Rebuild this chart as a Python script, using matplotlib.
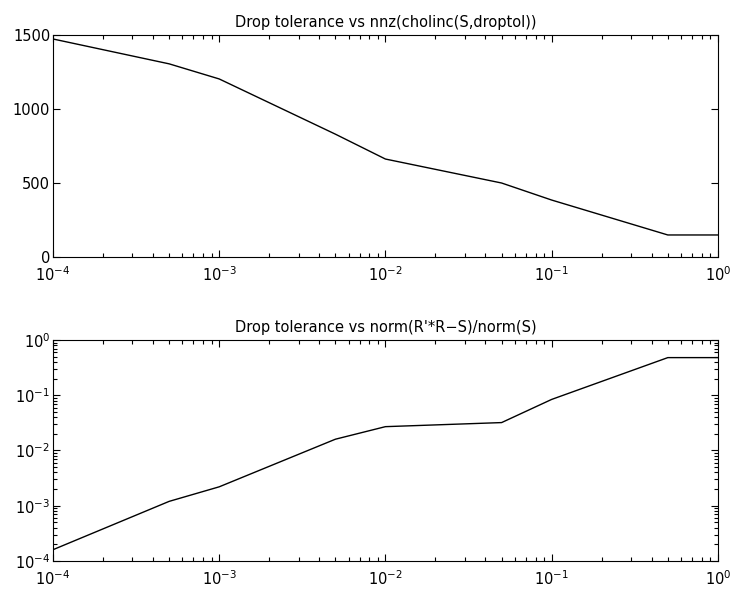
import numpy as np
import matplotlib
matplotlib.use('Agg')
import matplotlib.pyplot as plt
from matplotlib.ticker import LogLocator, FixedLocator

# drop tolerances used on both plots
droptol = [1e-4, 5e-4, 1e-3, 5e-3, 1e-2, 5e-2, 1e-1, 5e-1, 1]
# nnz(cholinc(S,droptol))
nnz_vals = [1473, 1305, 1203, 830, 662, 500, 385, 149, 149]
# norm(R'*R-S)/norm(S)
rel_err = [1.6e-4, 1.2e-3, 2.2e-3, 1.6e-2, 2.7e-2, 3.2e-2, 8.4e-2, 0.48, 0.48]

titles = ['Drop tolerance vs nnz(cholinc(S,droptol))',
          "Drop tolerance vs norm(R'*R\u2212S)/norm(S)"]

plt.rcParams['font.family'] = ['DejaVu Sans']
plt.rcParams['font.size'] = 10.5

fig = plt.figure(figsize=(7.34, 5.91), dpi=100)
ax1 = fig.add_axes([0.0722, 0.5651, 0.9058, 0.3757])
ax2 = fig.add_axes([0.0722, 0.0508, 0.9058, 0.3739])


def style(ax):
    ax.tick_params(which='both', direction='in', top=True, right=True,
                   labelsize=10.5, width=0.8)
    ax.tick_params(which='major', length=5)
    ax.tick_params(which='minor', length=3)
    ax.tick_params(axis='y', pad=2)
    ax.tick_params(axis='x', pad=6)
    for s in ax.spines.values():
        s.set_linewidth(0.8)


ax1.plot(droptol, nnz_vals, color='black', lw=1)
ax1.set_xscale('log')
ax1.set_xlim(1e-4, 1)
ax1.set_ylim(0, 1500)
ax1.yaxis.set_major_locator(FixedLocator([0, 500, 1000, 1500]))
ax1.set_title(titles[0], fontsize=10.5, pad=6)
style(ax1)

ax2.plot(droptol, rel_err, color='black', lw=1)
ax2.set_xscale('log')
ax2.set_yscale('log')
ax2.set_xlim(1e-4, 1)
ax2.set_ylim(1e-4, 1)
ax2.yaxis.set_major_locator(LogLocator(base=10, numticks=10))
ax2.set_title(titles[1], fontsize=10.5, pad=6)
style(ax2)

for ax in (ax1, ax2):
    ax.xaxis.set_major_locator(LogLocator(base=10, numticks=10))
    ax.xaxis.set_minor_locator(LogLocator(base=10, subs=np.arange(2, 10), numticks=10))
ax2.yaxis.set_minor_locator(LogLocator(base=10, subs=np.arange(2, 10), numticks=10))

fig.savefig('out.png', dpi=100)
